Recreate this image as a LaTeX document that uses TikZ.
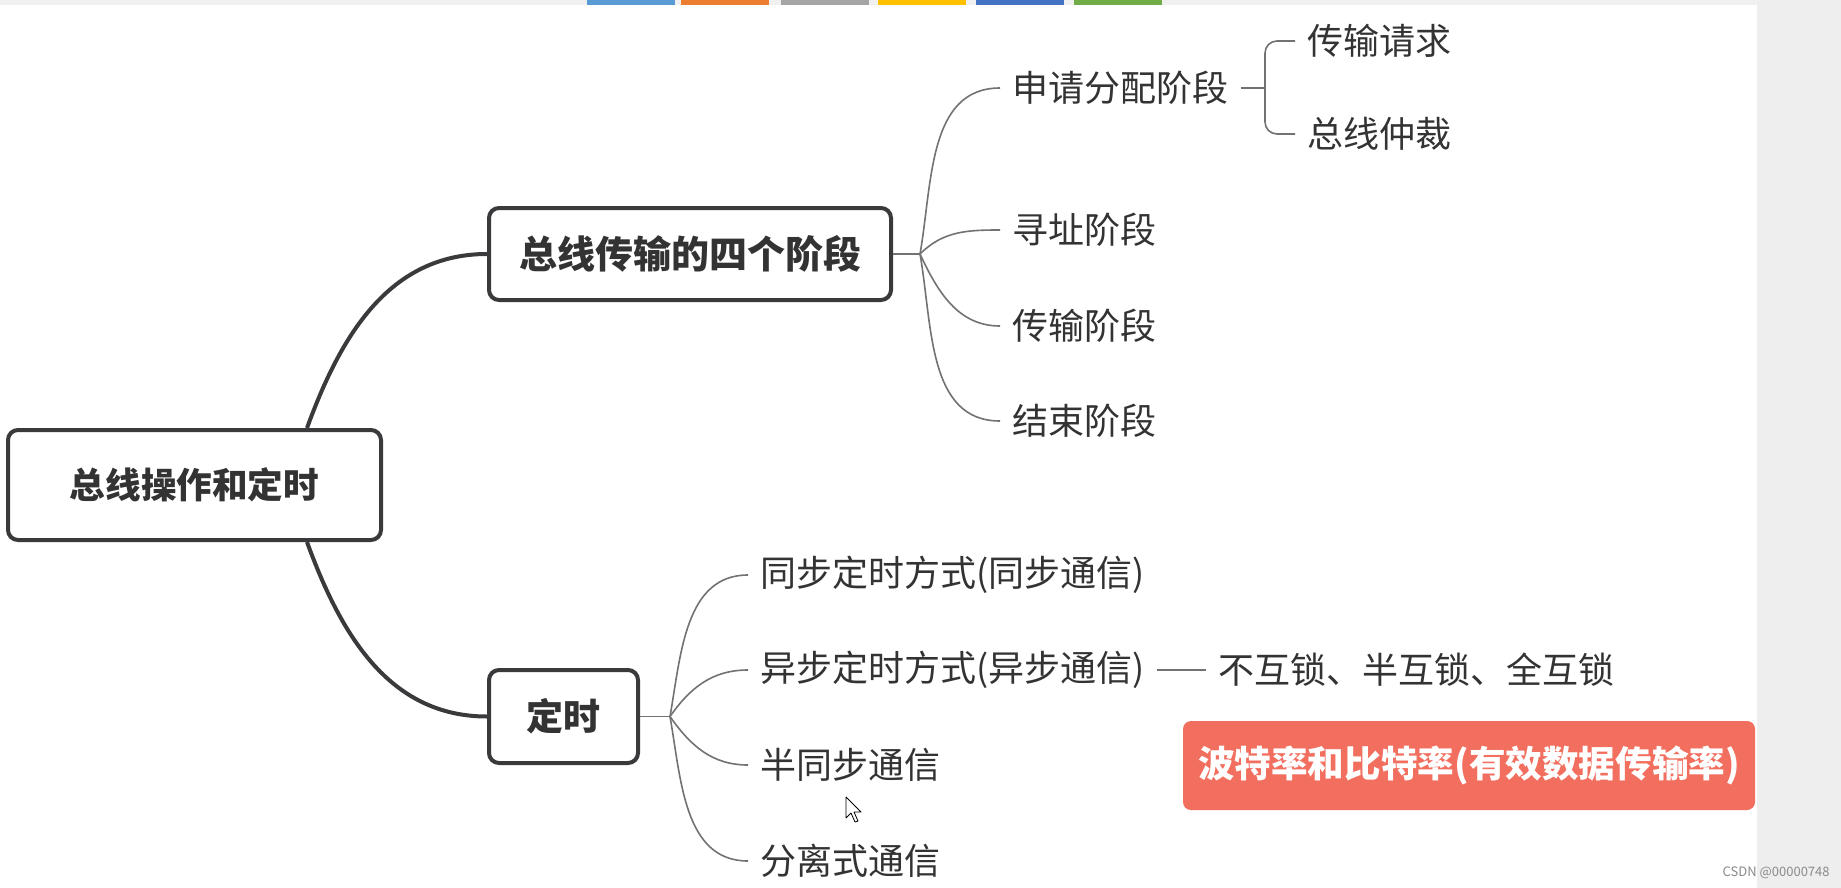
\documentclass[tikz,border=0pt]{standalone}
\usepackage{fontspec}
\newfontfamily\cjk{Noto Sans CJK SC}
\definecolor{ink}{HTML}{333333}
\definecolor{boxline}{HTML}{3A3A3C}
\definecolor{twigline}{HTML}{727272}
\definecolor{ratered}{RGB}{242,110,94}
\definecolor{panel}{HTML}{EEEEEE}
\definecolor{wmgray}{HTML}{8A8A8A}
\definecolor{tabblue}{HTML}{5B9BD5}
\definecolor{taborange}{HTML}{ED7D31}
\definecolor{tabgray}{HTML}{A5A5A5}
\definecolor{tabyellow}{HTML}{FFC000}
\definecolor{tabnavy}{HTML}{4472C4}
\definecolor{tabgreen}{HTML}{70AD47}

\begin{document}
\begin{tikzpicture}[x=0.5pt,y=-0.5pt,
  topic/.style={draw=boxline,line width=2pt,rounded corners=5pt,fill=white,
    text=ink,inner sep=0pt,font=\cjk\bfseries\fontsize{#1}{#1}\selectfont},
  leaf/.style={anchor=west,inner xsep=6pt,inner ysep=0pt,text=ink,
    font=\cjk\fontsize{18}{20}\selectfont},
  trunk/.style={draw=boxline,line width=2pt},
  twig/.style={draw=twigline,line width=0.8pt}]
  \useasboundingbox (0,0) rectangle (1841,888);
  % Screen background
  \fill[white] (0,0) rectangle (1841,888);
  \fill[panel] (1757,0) rectangle (1841,888);
  \fill[panel!90!white] (0,0) rectangle (1757,5);
  % Colour tabs on top
  \fill[tabblue] (587,0) rectangle (675,5);
  \fill[taborange] (681,0) rectangle (769,5);
  \fill[tabgray] (781,0) rectangle (869,5);
  \fill[tabyellow] (878,0) rectangle (966,5);
  \fill[tabnavy] (976,0) rectangle (1064,5);
  \fill[tabgreen] (1074,0) rectangle (1162,5);

  % Topics
  \node[topic=17.8,minimum width=186.5pt,minimum height=55pt] (root) at (194.5,485) {总线操作和定时};
  \node[topic=19,minimum width=201pt,minimum height=46pt] (b1) at (690,254) {总线传输的四个阶段};
  \node[topic=18.5,minimum width=74.5pt,minimum height=46.5pt] (b2) at (563.5,716.5) {定时};
  \node[fill=ratered,rounded corners=4pt,text=white,inner sep=0pt,
    font=\cjk\bfseries\fontsize{18.3}{18.3}\selectfont,
    minimum width=286pt,minimum height=44.5pt] (rate) at (1469,765.5) {波特率和比特率(有效数据传输率)};

  % Stages
  \node[leaf] (s1) at (1000,88) {申请分配阶段};
  \node[leaf] (s2) at (1000,230) {寻址阶段};
  \node[leaf] (s3) at (1000,326) {传输阶段};
  \node[leaf] (s4) at (1000,421) {结束阶段};
  \node[leaf] (r1) at (1295,41) {传输请求};
  \node[leaf] (r2) at (1295,134) {总线仲裁};

  % Timing
  \node[leaf] (t1) at (748,575) {同步定时方式(同步通信)};
  \node[leaf] (t2) at (748,670) {异步定时方式(异步通信)};
  \node[leaf] (lk) at (1206,670) {不互锁、半互锁、全互锁};
  \node[leaf] (t3) at (748,765) {半同步通信};
  \node[leaf] (t4) at (748,861) {分离式通信};

  % Connectors
  \coordinate (f1) at (920,254);
  \coordinate (f2) at (670,716.5);
  \coordinate (bk) at (1265,88);
  \draw[trunk] ([xshift=-38pt]root.north east) to[out=70,in=180] (b1.west);
  \draw[trunk] ([xshift=-38pt]root.south east) to[out=-70,in=180] (b2.west);
  \draw[twig] (b1.east) -- (f1);
  \draw[twig] (f1) to[out=80,in=180] (s1.west);
  \draw[twig] (f1) to[out=45,in=180] (s2.west);
  \draw[twig] (f1) to[out=-65,in=180] (s3.west);
  \draw[twig] (f1) to[out=-80,in=180] (s4.west);
  \draw[twig] (s1.east) -- (bk);
  \draw[twig,rounded corners=6pt] (r1.west) -| (bk) |- (r2.west);
  \draw[twig] (b2.east) -- (f2);
  \draw[twig] (f2) to[out=80,in=180] (t1.west);
  \draw[twig] (f2) to[out=55,in=180] (t2.west);
  \draw[twig] (f2) to[out=-55,in=180] (t3.west);
  \draw[twig] (f2) to[out=-80,in=180] (t4.west);
  \draw[twig] (t2.east) -- (lk.west);

  % Mouse pointer
  \draw[black,line width=0.4pt,fill=white,line join=round]
    (846,797) -- (846,818) -- (851,813) -- (855,822) -- (858,821) -- (854,812) -- (861,812) -- cycle;
  % Watermark
  \node[anchor=east,inner sep=0pt,text=wmgray,font=\cjk\fontsize{6.5}{8}\selectfont] (wm) at (1830,873) {CSDN @00000748};
\end{tikzpicture}
\end{document}
